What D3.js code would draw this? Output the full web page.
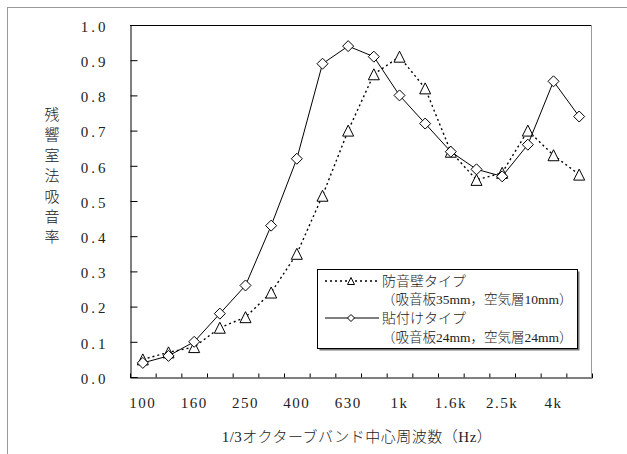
<!DOCTYPE html>
<html>
<head>
<meta charset="utf-8">
<script src="https://cdn.jsdelivr.net/npm/d3@7"></script>
<style>
  body { margin: 0; background: #fff; }
  svg { display: block; }
  text { font-family: "Liberation Serif", "Noto Sans CJK JP", serif; fill: #222; }
  .jp { font-weight: 300; }
</style>
</head>
<body>
<svg id="chart" width="627" height="454"></svg>
<script>
// 1/3 octave band centre frequencies
const categories = ["100","125","160","200","250","315","400","500","630","800",
                    "1k","1.25k","1.6k","2k","2.5k","3.15k","4k","5k"];
const tickLabels = ["100","160","250","400","630","1k","1.6k","2.5k","4k"];
const yTicks = [0, 0.1, 0.2, 0.3, 0.4, 0.5, 0.6, 0.7, 0.8, 0.9, 1.0];

// 防音壁タイプ (triangles, dotted)
const bouonheki = [0.05, 0.07, 0.085, 0.14, 0.17, 0.24, 0.35, 0.515, 0.70, 0.86,
                   0.91, 0.82, 0.64, 0.56, 0.58, 0.70, 0.63, 0.575];
// 貼付けタイプ (diamonds, solid)
const haritsuke = [0.04, 0.06, 0.10, 0.18, 0.26, 0.43, 0.62, 0.89, 0.94, 0.91,
                   0.80, 0.72, 0.64, 0.59, 0.57, 0.66, 0.84, 0.74];

const legendNames = ["防音壁タイプ", "（吸音板35mm，空気層10mm）",
                     "貼付けタイプ", "（吸音板24mm，空気層24mm）"];
const yTitle = "残響室法吸音率";
const xTitle = "1/3オクターブバンド中心周波数（Hz）";

const svg = d3.select("#chart");
const plot = { left: 130, right: 592, top: 25, bottom: 377 };

// outer frame (scanned page border)
svg.append("rect").attr("width", 627).attr("height", 454).attr("fill", "#fff");
svg.append("line").attr("x1", 7).attr("x2", 627).attr("y1", 7.5).attr("y2", 7.5)
  .attr("stroke", "#999");
svg.append("line").attr("x1", 7.5).attr("x2", 7.5).attr("y1", 7).attr("y2", 454)
  .attr("stroke", "#999");

const x = d3.scaleBand().domain(categories).range([plot.left, plot.right]);
const xEdge = d3.scaleLinear().domain([0, categories.length]).range([plot.left, plot.right]);
const y = d3.scaleLinear().domain([0, 1]).range([plot.bottom, plot.top]);
const cx = d => x(d) + x.bandwidth() / 2;

// plot frame
svg.append("line").attr("x1", plot.left).attr("x2", plot.right)
  .attr("y1", plot.top + 0.5).attr("y2", plot.top + 0.5).attr("stroke", "#000");
svg.append("line").attr("x1", plot.right - 0.5).attr("x2", plot.right - 0.5)
  .attr("y1", plot.top).attr("y2", plot.bottom).attr("stroke", "#999");

// y axis, ticks pointing inward
const yAxis = svg.append("g").attr("transform", `translate(${plot.left + 0.5},0)`)
  .call(d3.axisLeft(y).tickValues(yTicks).tickSize(-7).tickPadding(22).tickFormat(d3.format(".1f")));
yAxis.select(".domain").attr("stroke", "#000");
yAxis.selectAll(".tick line").attr("stroke", "#000");
yAxis.selectAll(".tick text").attr("font-size", 15).attr("letter-spacing", 3)
  .attr("dy", "0.42em").attr("fill", "#222").style("font-family", '"Liberation Serif", serif');

// x axis: boundary ticks
const xTicks = svg.append("g").attr("transform", `translate(0,${plot.bottom + 0.5})`)
  .call(d3.axisBottom(xEdge).tickValues(d3.range(1, categories.length)).tickSize(-4).tickFormat(""));
xTicks.select(".domain").attr("stroke", "#000");
xTicks.selectAll(".tick line").attr("stroke", "#000");

// x axis labels on every other band
const xLabels = svg.append("g").attr("transform", `translate(0,${plot.bottom})`)
  .call(d3.axisBottom(x).tickValues(tickLabels).tickSize(0).tickPadding(20));
xLabels.select(".domain").remove();
xLabels.selectAll(".tick text").attr("font-size", 15).attr("letter-spacing", 1.5)
  .attr("fill", "#222").style("font-family", '"Liberation Serif", serif');

// axis titles
svg.append("g").selectAll("text").data(Array.from(yTitle)).join("text")
  .attr("class", "jp")
  .attr("x", 52).attr("y", (d, i) => 120 + i * 20.4)
  .attr("text-anchor", "middle").attr("font-size", 15).text(d => d);
svg.append("text").attr("class", "jp").attr("x", 357).attr("y", 442).attr("text-anchor", "middle")
  .attr("font-size", 15).attr("letter-spacing", 0.5).text(xTitle);

// marker shapes
const diamond = {
  draw(ctx, size) {
    const r = Math.sqrt(size) / 2;
    ctx.moveTo(0, -r); ctx.lineTo(r, 0); ctx.lineTo(0, r); ctx.lineTo(-r, 0); ctx.closePath();
  }
};
const triangle = {
  draw(ctx, size) {
    const r = Math.sqrt(size) / 2;
    ctx.moveTo(0, -r); ctx.lineTo(r, r); ctx.lineTo(-r, r); ctx.closePath();
  }
};

const line = d3.line().x((d, i) => cx(categories[i])).y(d => y(d));

function drawSeries(values, shape, dash, size) {
  const g = svg.append("g");
  g.append("path").attr("d", line(values)).attr("fill", "none")
    .attr("stroke", "#000").attr("stroke-width", dash ? 1.4 : 1)
    .attr("stroke-dasharray", dash);
  g.selectAll("path.mark").data(values).join("path").attr("class", "mark")
    .attr("transform", (d, i) => `translate(${cx(categories[i])},${y(d)})`)
    .attr("d", d3.symbol().type(shape).size(size))
    .attr("fill", "#fff").attr("stroke", "#000").attr("stroke-width", 1);
}
drawSeries(bouonheki, triangle, "2,3", 121);
drawSeries(haritsuke, diamond, null, 121);

// legend
const lg = svg.append("g");
lg.append("rect").attr("x", 319.5).attr("y", 271.5).attr("width", 260).attr("height", 79)
  .attr("fill", "#777");
lg.append("rect").attr("x", 317.5).attr("y", 269.5).attr("width", 260).attr("height", 79)
  .attr("fill", "#fff").attr("stroke", "#000");
const legendRows = [
  { y: 281, shape: triangle, dash: "2,3", w: 1.4 },
  { y: 318, shape: diamond, dash: null, w: 1 }
];
legendRows.forEach(r => {
  lg.append("line").attr("x1", 325).attr("x2", 379).attr("y1", r.y).attr("y2", r.y)
    .attr("stroke", "#000").attr("stroke-width", r.w).attr("stroke-dasharray", r.dash);
  lg.append("path").attr("transform", `translate(351,${r.y})`)
    .attr("d", d3.symbol().type(r.shape).size(49))
    .attr("fill", "#fff").attr("stroke", "#000");
});
lg.selectAll("text").data(legendNames).join("text")
  .attr("class", "jp")
  .attr("x", 382).attr("y", (d, i) => [286, 304, 323, 342][i])
  .attr("font-size", (d, i) => i % 2 ? 13.5 : 14).text(d => d);
</script>
</body>
</html>
